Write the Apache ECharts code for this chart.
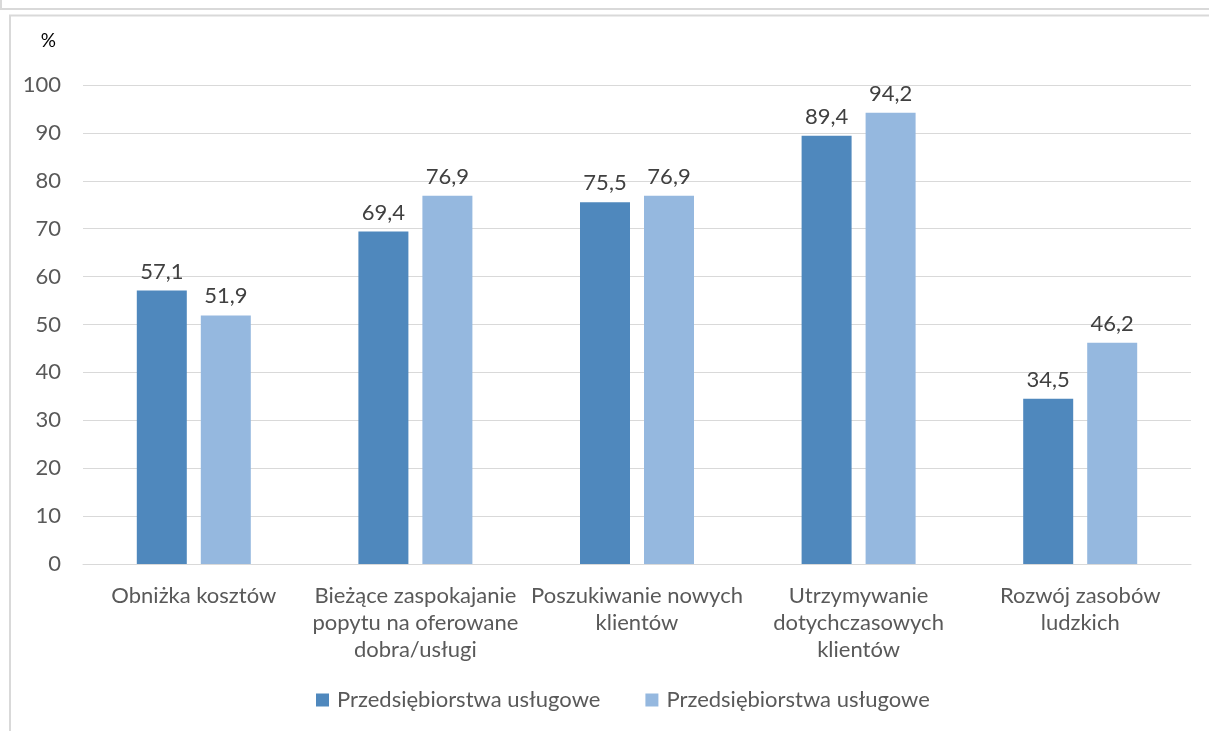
<!DOCTYPE html>
<html><head><meta charset="utf-8">
<script src="https://cdn.jsdelivr.net/npm/echarts@6/dist/echarts.min.js"></script>
<style>html,body{margin:0;padding:0;background:#fff}#c{width:1209px;height:731px}</style>
</head><body><div id="c"></div>
<script>
const categories = ['Obniżka kosztów', 'Bieżące zaspokajanie\npopytu na oferowane\ndobra/usługi', 'Poszukiwanie nowych\nklientów', 'Utrzymywanie\ndotychczasowych\nklientów', 'Rozwój zasobów\nludzkich'];
const seriesNames = ['Przedsiębiorstwa usługowe', 'Przedsiębiorstwa usługowe '];
const seriesA = [57.1, 69.4, 75.5, 89.4, 34.5];
const seriesB = [51.9, 76.9, 76.9, 94.2, 46.2];
const yTicks = { min: 0, max: 100, interval: 10 };

const font = 'Lato, "Open Sans", sans-serif';
const chart = echarts.init(document.getElementById('c'));
const lbl = {show: true, position: 'top', distance: 8, fontSize: 22, color: '#404040', fontFamily: font,
  formatter: p => String(p.value).replace('.', ',')};
chart.setOption({
  animation: false,
  textStyle: {fontFamily: font},
  grid: {left: 83, right: 18, top: 85, bottom: 167},
  legend: {
    left: 311, top: 684, itemWidth: 13, itemHeight: 13, itemGap: 45,
    icon: 'rect',
    textStyle: {fontSize: 22, color: '#595959', fontFamily: font, padding: [0,0,0,3]},
    data: seriesNames,
    formatter: n => n.trim()
  },
  xAxis: {
    type: 'category', data: categories,
    axisLine: {show: true, lineStyle: {color: '#D9D9D9', width: 1}},
    axisTick: {show: false},
    axisLabel: {fontSize: 22, color: '#595959', lineHeight: 27, margin: 18, interval: 0, fontFamily: font}
  },
  yAxis: {
    type: 'value', min: yTicks.min, max: yTicks.max, interval: yTicks.interval,
    name: '%', nameLocation: 'end', nameGap: 35,
    nameTextStyle: {fontSize: 19, color: '#000', align: 'right', padding: [0, 27, 0, 0], fontFamily: font},
    axisLine: {show: false}, axisTick: {show: false},
    axisLabel: {fontSize: 22, color: '#595959', margin: 22, fontFamily: font},
    splitLine: {lineStyle: {color: '#D9D9D9', width: 1}}
  },
  series: [
    {name: seriesNames[0], type: 'bar', data: seriesA, barWidth: 50, barGap: '28%',
     itemStyle: {color: '#4F88BD'}, label: lbl},
    {name: seriesNames[1], type: 'bar', data: seriesB, barWidth: 50,
     itemStyle: {color: '#95B8DF'}, label: lbl}
  ],
  graphic: [
    {type: 'line', shape: {x1: 0, y1: 9, x2: 1209, y2: 9}, style: {stroke: '#D9D9D9', lineWidth: 2}},
    {type: 'line', shape: {x1: 1, y1: 0, x2: 1, y2: 9}, style: {stroke: '#D9D9D9', lineWidth: 2}},
    {type: 'line', shape: {x1: 9, y1: 15.5, x2: 1209, y2: 15.5}, style: {stroke: '#D9D9D9', lineWidth: 2}},
    {type: 'line', shape: {x1: 10, y1: 15, x2: 10, y2: 731}, style: {stroke: '#D9D9D9', lineWidth: 2}}
  ]
});
</script></body></html>
